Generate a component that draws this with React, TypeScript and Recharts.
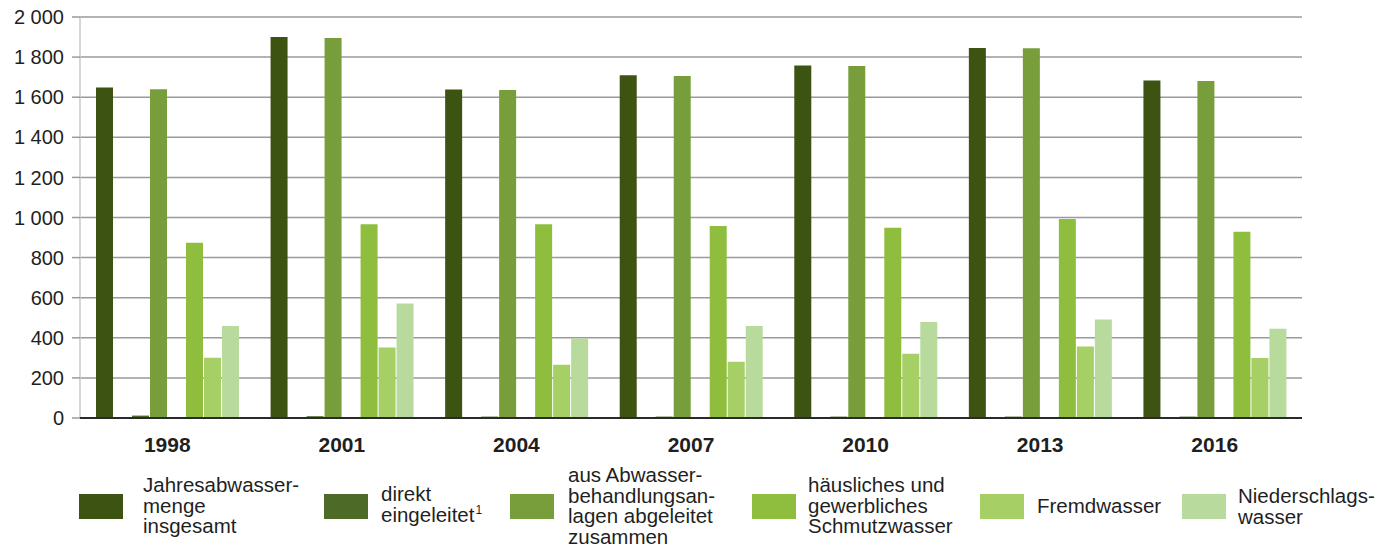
import { BarChart, Bar, XAxis, YAxis, CartesianGrid } from "recharts"

const years = ["1998", "2001", "2004", "2007", "2010", "2013", "2016"]
const gesamt = [1648, 1900, 1638, 1710, 1758, 1846, 1683]
const direkt = [12, 9, 7, 7, 7, 7, 7]
const abgeleitet = [1640, 1895, 1636, 1706, 1756, 1844, 1681]
const schmutz = [874, 966, 966, 958, 949, 993, 929]
const fremd = [301, 351, 265, 281, 321, 357, 299]
const nieder = [459, 571, 396, 459, 479, 491, 445]
const yTicks = [0, 200, 400, 600, 800, 1000, 1200, 1400, 1600, 1800, 2000]

const COLORS = {
  gesamt: "#3d5312",
  direkt: "#4d6a27",
  abgeleitet: "#779e3b",
  schmutz: "#8fbe3f",
  fremd: "#a6cf66",
  nieder: "#b8db9d",
}

const FONT = "'Liberation Sans', Arial, Helvetica, sans-serif"
const INK = "#1f1f1f"

const data = years.map((year, i) => ({
  year,
  gesamt: gesamt[i],
  direkt: direkt[i],
  abgeleitet: abgeleitet[i],
  schmutz: schmutz[i],
  fremd: fremd[i],
  nieder: nieder[i],
}))

const fmt = (v: number) => String(v).replace(/\B(?=(\d{3})+(?!\d))/g, " ")

const legendItems: { key: keyof typeof COLORS; box: number; text: number; lines: React.ReactNode[] }[] = [
  { key: "gesamt", box: 71, text: 135, lines: ["Jahresabwasser-", "menge", "insgesamt"] },
  {
    key: "direkt",
    box: 316,
    text: 373,
    lines: [
      "direkt",
      <>
        eingeleitet
        <span style={{ fontSize: 12, position: "relative", top: -8, marginLeft: 1 }}>1</span>
      </>,
    ],
  },
  { key: "abgeleitet", box: 502, text: 560, lines: ["aus Abwasser-", "behandlungsan-", "lagen abgeleitet", "zusammen"] },
  { key: "schmutz", box: 744, text: 800, lines: ["häusliches und", "gewerbliches", "Schmutzwasser"] },
  { key: "fremd", box: 972, text: 1029, lines: ["Fremdwasser"] },
  { key: "nieder", box: 1174, text: 1230, lines: ["Niederschlags-", "wasser"] },
]

export default function App() {
  return (
    <div style={{ width: 1370, fontFamily: FONT, color: INK, marginTop: -3 }}>
      <BarChart
        width={1310}
        height={463}
        data={data}
        margin={{ top: 12, right: 16, bottom: 0, left: 0 }}
        barSize={17}
        barGap={1}
        barCategoryGap={15}
      >
        <CartesianGrid vertical={false} stroke="#9a9a9a" strokeWidth={1.5} />
        <YAxis
          width={72}
          domain={[0, 2000]}
          ticks={yTicks}
          tickFormatter={fmt}
          tickSize={8}
          tickMargin={8}
          tickLine={{ stroke: "#9a9a9a", strokeWidth: 1.5 }}
          axisLine={{ stroke: "#c8c8c8", strokeWidth: 1.5 }}
          tick={{ fill: INK, fontSize: 20, fontFamily: FONT }}
          interval={0}
        />
        <XAxis
          dataKey="year"
          height={50}
          tickLine={false}
          axisLine={{ stroke: "#2a2a2a", strokeWidth: 2 }}
          tick={{ fill: INK, fontSize: 21, fontWeight: 700, fontFamily: FONT }}
          tickMargin={13}
        />
        <Bar dataKey="gesamt" fill={COLORS.gesamt} isAnimationActive={false} />
        <Bar dataKey="leer1" fill="none" legendType="none" isAnimationActive={false} />
        <Bar dataKey="direkt" fill={COLORS.direkt} isAnimationActive={false} />
        <Bar dataKey="abgeleitet" fill={COLORS.abgeleitet} isAnimationActive={false} />
        <Bar dataKey="leer2" fill="none" legendType="none" isAnimationActive={false} />
        <Bar dataKey="schmutz" fill={COLORS.schmutz} isAnimationActive={false} />
        <Bar dataKey="fremd" fill={COLORS.fremd} isAnimationActive={false} />
        <Bar dataKey="nieder" fill={COLORS.nieder} isAnimationActive={false} />
      </BarChart>
      <div style={{ position: "relative", height: 78 }}>
        {legendItems.map((item) => (
          <div key={item.key}>
            <div
              style={{
                position: "absolute",
                left: item.box,
                top: 26,
                width: 44,
                height: 25,
                background: COLORS[item.key],
              }}
            />
            <div
              style={{
                position: "absolute",
                left: item.text,
                top: 38,
                transform: "translateY(-50%)",
                fontSize: 20.5,
                lineHeight: "20.5px",
                whiteSpace: "nowrap",
              }}
            >
              {item.lines.map((l, i) => (
                <div key={i}>{l}</div>
              ))}
            </div>
          </div>
        ))}
      </div>
    </div>
  )
}
